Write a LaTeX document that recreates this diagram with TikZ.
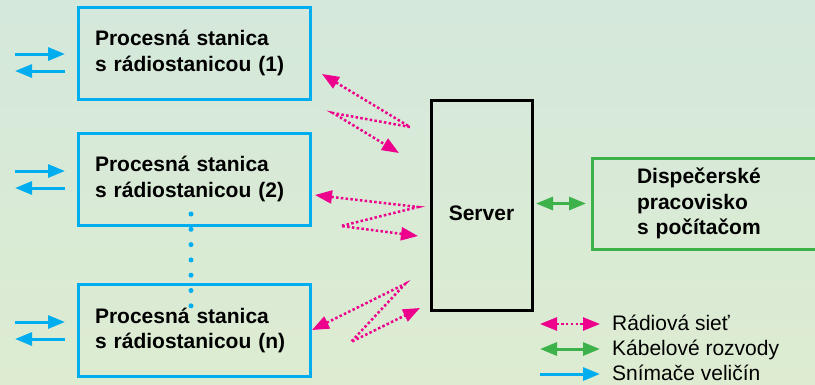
\documentclass[tikz,border=0pt]{standalone}
\usepackage{fontspec}
\setmainfont{Liberation Sans}
\usetikzlibrary{arrows.meta,calc}

\definecolor{sensorblue}{RGB}{0,174,239}
\definecolor{radiopink}{RGB}{236,0,140}
\definecolor{cablegreen}{RGB}{62,178,74}
\definecolor{bgtop}{RGB}{212,232,219}
\definecolor{bgbottom}{RGB}{221,236,209}

\tikzset{
	boxfont/.style={font=\fontsize{21}{25.5}\selectfont\bfseries},
	station/.style={boxfont, draw=sensorblue, line width=3pt, align=left, text width=198pt,
		inner xsep=17pt, inner ysep=0pt, minimum height=92pt, outer sep=0pt},
	serverbox/.style={boxfont, draw=black, line width=3pt, minimum width=101pt, minimum height=210pt,
		text height=31pt, text depth=0pt, outer sep=0pt},
	dispbox/.style={boxfont, draw=cablegreen, line width=3pt, align=left, text width=148pt,
		inner xsep=45pt, inner ysep=0pt, minimum height=91pt, outer sep=0pt},
	legendtext/.style={font=\fontsize{21}{25.5}\selectfont, inner sep=0pt, anchor=base west},
	headtri/.tip={Triangle[length=17pt,width=13pt]},
	sensor/.style={sensorblue, line width=3pt, -{Triangle[length=17pt,width=13pt]}},
	radio/.style={radiopink, line width=2.5pt, dash pattern=on 2.5pt off 2.3pt, headtri-headtri},
	cable/.style={cablegreen, line width=3pt, headtri-headtri},
}

\begin{document}
\begin{tikzpicture}[x=1pt,y=-1pt]
	\useasboundingbox (0,0) rectangle (815,384);
	\shade[top color=bgtop, bottom color=bgbottom] (0,0) rectangle (815,384);
	\clip (0,0) rectangle (815,384);

	% stations, server and dispatcher
	\node[station] (p1) at (194,53) {Procesná stanica\\s rádiostanicou (1)};
	\node[station] (p2) at (194,179) {Procesná stanica\\s rádiostanicou (2)};
	\node[station] (pn) at (194,330.5) {Procesná stanica\\s rádiostanicou (n)};
	\node[serverbox] (srv) at (481.5,205) {Server};
	\node[dispbox] (disp) at (711,203.5) {Dispečerské\\pracovisko\\s počítačom};

	% sensor inputs and outputs
	\foreach \y in {54,171,322} {
		\draw[sensor] (15,\y) -- (65,\y);
		\draw[sensor] (65,\y+17) -- (15,\y+17);
	}

	% stations in between
	\draw[sensorblue, line width=5pt, line cap=round, dash pattern=on 0pt off 15.3pt]
		($(p2.south)+(-3,-11)$) -- ($(pn.north)+(-3,22)$);

	% radio links
	\draw[radio] ($(p1.east)+(12,21)$) -- ++(88,53) -- ++(-77,-14) -- ++(66,40);
	\draw[radio] ($(p2.east)+(5,16)$) -- ++(103,12) -- ++(-77,19) -- ++(77,10);
	\draw[radio] ($(pn.east)+(2,-0.5)$) -- ++(93,-46) -- ++(-54,58) -- ++(69,-34);

	% cable to dispatcher
	\draw[cable, shorten <=4pt, shorten >=6pt] (srv.east |- disp.west) -- (disp.west);

	% legend
	\foreach \st/\txt [count=\i] in {radio/Rádiová sieť, cable/Kábelové rozvody, sensor/Snímače veličín} {
		\node[legendtext] (leg\i) at (612,{330+25*(\i-1)}) {\txt};
		\draw[\st] ($(leg\i.base west)+(-72,-6)$) -- ($(leg\i.base west)+(-12,-6)$);
	}
\end{tikzpicture}
\end{document}
